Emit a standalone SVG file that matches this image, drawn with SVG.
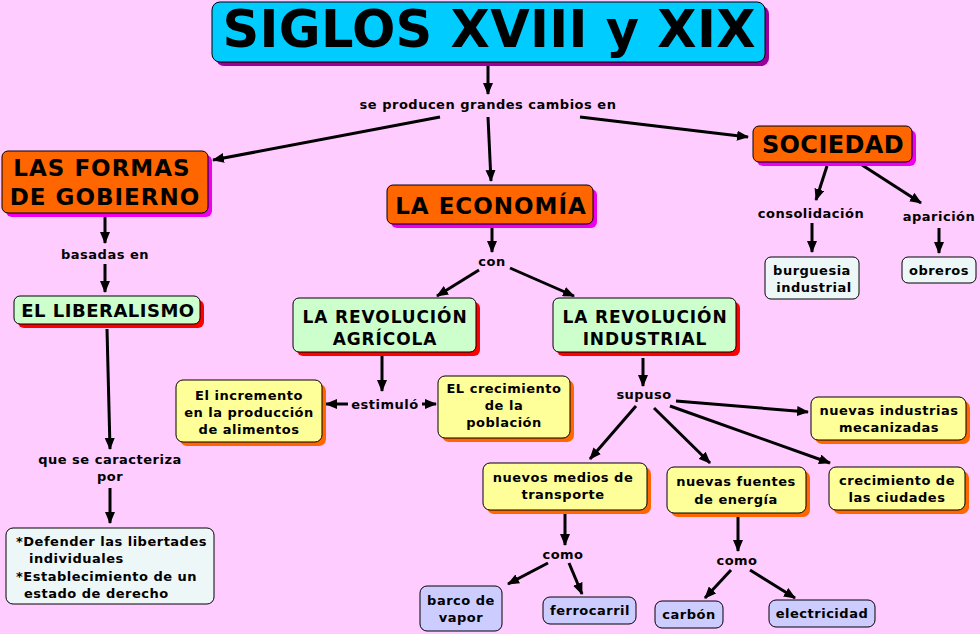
<svg xmlns="http://www.w3.org/2000/svg" width="980" height="634" viewBox="0 0 980 634">
<defs>
<marker id="ah" viewBox="0 0 12 10" refX="11" refY="5" markerWidth="12" markerHeight="10" markerUnits="userSpaceOnUse" orient="auto">
<path d="M0,0 L12,5 L0,10 z" fill="#000"/>
</marker>
<style>
text{font-family:"DejaVu Sans","Verdana",sans-serif;font-weight:bold;fill:#000;text-anchor:middle;letter-spacing:0.5px}
.lbl{font-size:13px}
.t13{font-size:13px}
.h23{font-size:23px;letter-spacing:1px}
.h17{font-size:17px;letter-spacing:0.9px}
.c line{stroke:#000;stroke-width:3;marker-end:url(#ah)}
.box{stroke:#000;stroke-width:1}
.org{fill:#FF6600}
.grn{fill:#CCFFCC}
.yel{fill:#FFFF99}
.wht{fill:#EEF7F7}
.blu{fill:#CCCCFF}
.shm{fill:#EE00EE}
.shr{fill:#FF0000}
.sho{fill:#FF6600}
</style>
</defs>
<rect width="980" height="634" fill="#FFCCFF"/>

<g id="connectors" class="c">
<line x1="488" y1="65" x2="488" y2="94"/>
<line x1="440" y1="117" x2="213" y2="160"/>
<line x1="488" y1="117" x2="491" y2="181"/>
<line x1="580" y1="117" x2="748" y2="137"/>
<line x1="105" y1="217" x2="105" y2="243"/>
<line x1="105" y1="264" x2="105" y2="292"/>
<line x1="107" y1="329" x2="110" y2="449"/>
<line x1="110" y1="488" x2="110" y2="523"/>
<line x1="492" y1="228" x2="492" y2="252"/>
<line x1="479" y1="270" x2="437" y2="296"/>
<line x1="510" y1="268" x2="574" y2="296"/>
<line x1="382" y1="356" x2="382" y2="391"/>
<line x1="348" y1="404" x2="326" y2="404"/>
<line x1="422" y1="404" x2="436" y2="404"/>
<line x1="643" y1="358" x2="643" y2="386"/>
<line x1="676" y1="401" x2="808" y2="412"/>
<line x1="670" y1="406" x2="830" y2="463"/>
<line x1="654" y1="408" x2="710" y2="463"/>
<line x1="636" y1="406" x2="590" y2="459"/>
<line x1="565" y1="514" x2="565" y2="545"/>
<line x1="548" y1="563" x2="508" y2="584"/>
<line x1="569" y1="563" x2="582" y2="594"/>
<line x1="738" y1="517" x2="738" y2="551"/>
<line x1="731" y1="570" x2="705" y2="598"/>
<line x1="750" y1="570" x2="795" y2="598"/>
<line x1="827" y1="166" x2="816" y2="200"/>
<line x1="862" y1="165" x2="921" y2="203"/>
<line x1="812" y1="223" x2="812" y2="252"/>
<line x1="939" y1="228" x2="939" y2="253"/>
</g>

<g id="labels">
<text class="lbl" x="488" y="109">se producen grandes cambios en</text>
<text class="lbl" x="105" y="259">basadas en</text>
<text class="lbl" x="110" y="464">que se caracteriza</text>
<text class="lbl" x="110" y="481">por</text>
<text class="lbl" x="492" y="266">con</text>
<text class="lbl" x="385" y="409">estimuló</text>
<text class="lbl" x="644" y="399">supuso</text>
<text class="lbl" x="563" y="559">como</text>
<text class="lbl" x="737" y="565">como</text>
<text class="lbl" x="811" y="218">consolidación</text>
<text class="lbl" x="939" y="221">aparición</text>
</g>

<g id="title">
<rect x="216" y="6" width="553" height="60" rx="8" fill="#990099"/>
<rect class="box" x="212" y="2" width="553" height="60" rx="8" fill="#00CCFF"/>
<text x="489" y="47" style="font-size:51px;letter-spacing:0" textLength="533" lengthAdjust="spacing">SIGLOS XVIII y XIX</text>
</g>

<g id="formas">
<rect class="shm" x="6" y="155" width="206" height="62" rx="6"/>
<rect class="box org" x="2" y="151" width="206" height="62" rx="6"/>
<text class="h23" x="102" y="176">LAS FORMAS</text>
<text class="h23" x="105" y="205">DE GOBIERNO</text>
</g>

<g id="liberalismo">
<rect class="shr" x="18" y="300" width="186" height="28" rx="6"/>
<rect class="box grn" x="14" y="296" width="186" height="28" rx="6"/>
<text x="108" y="317" style="font-size:18px;letter-spacing:0.5px">EL LIBERALISMO</text>
</g>

<g id="caracteristicas">
<rect class="box wht" x="6" y="528" width="208" height="76" rx="7"/>
<text x="16" y="546" class="t13" style="text-anchor:start">*Defender las libertades</text>
<text x="29" y="563" class="t13" style="text-anchor:start">individuales</text>
<text x="16" y="581" class="t13" style="text-anchor:start">*Establecimiento de un</text>
<text x="24" y="598" class="t13" style="text-anchor:start">estado de derecho</text>
</g>

<g id="economia">
<rect class="shm" x="391" y="189" width="206" height="39" rx="6"/>
<rect class="box org" x="387" y="185" width="206" height="39" rx="6"/>
<text class="h23" x="491" y="214">LA ECONOMÍA</text>
</g>

<g id="agricola">
<rect class="shr" x="297" y="302" width="183" height="54" rx="6"/>
<rect class="box grn" x="293" y="298" width="183" height="54" rx="6"/>
<text class="h17" x="385" y="323">LA REVOLUCIÓN</text>
<text class="h17" x="385" y="345">AGRÍCOLA</text>
</g>

<g id="industrial">
<rect class="shr" x="557" y="302" width="183" height="54" rx="6"/>
<rect class="box grn" x="553" y="298" width="183" height="54" rx="6"/>
<text class="h17" x="645" y="323">LA REVOLUCIÓN</text>
<text class="h17" x="645" y="345">INDUSTRIAL</text>
</g>

<g id="incremento">
<rect class="sho" x="180" y="384" width="146" height="62" rx="7"/>
<rect class="box yel" x="176" y="380" width="146" height="62" rx="7"/>
<text class="t13" x="249" y="400">El incremento</text>
<text class="t13" x="249" y="417">en la producción</text>
<text class="t13" x="249" y="434">de alimentos</text>
</g>

<g id="crecimiento-poblacion">
<rect class="sho" x="442" y="380" width="132" height="62" rx="7"/>
<rect class="box yel" x="438" y="376" width="132" height="62" rx="7"/>
<text class="t13" x="504" y="393">EL crecimiento</text>
<text class="t13" x="504" y="410">de la</text>
<text class="t13" x="504" y="427">población</text>
</g>

<g id="industrias">
<rect class="sho" x="815" y="401" width="155" height="43" rx="7"/>
<rect class="box yel" x="811" y="397" width="155" height="43" rx="7"/>
<text class="t13" x="889" y="415">nuevas industrias</text>
<text class="t13" x="889" y="432">mecanizadas</text>
</g>

<g id="ciudades">
<rect class="sho" x="833" y="471" width="136" height="43" rx="7"/>
<rect class="box yel" x="829" y="467" width="136" height="43" rx="7"/>
<text class="t13" x="897" y="485">crecimiento de</text>
<text class="t13" x="897" y="502">las ciudades</text>
</g>

<g id="fuentes">
<rect class="sho" x="671" y="471" width="139" height="46" rx="7"/>
<rect class="box yel" x="667" y="467" width="139" height="46" rx="7"/>
<text class="t13" x="736" y="486">nuevas fuentes</text>
<text class="t13" x="736" y="504">de energía</text>
</g>

<g id="transporte">
<rect class="sho" x="487" y="467" width="164" height="47" rx="7"/>
<rect class="box yel" x="483" y="463" width="164" height="47" rx="7"/>
<text class="t13" x="563" y="482">nuevos medios de</text>
<text class="t13" x="563" y="499">transporte</text>
</g>

<g id="barco">
<rect class="box blu" x="420" y="586" width="82" height="45" rx="7"/>
<text class="t13" x="461" y="605">barco de</text>
<text class="t13" x="461" y="622">vapor</text>
</g>

<g id="ferrocarril">
<rect class="box blu" x="543" y="597" width="93" height="27" rx="7"/>
<text class="t13" x="590" y="615">ferrocarril</text>
</g>

<g id="carbon">
<rect class="box blu" x="655" y="601" width="68" height="27" rx="7"/>
<text class="t13" x="689" y="619">carbón</text>
</g>

<g id="electricidad">
<rect class="box blu" x="769" y="600" width="106" height="27" rx="7"/>
<text class="t13" x="822" y="618">electricidad</text>
</g>

<g id="sociedad">
<rect class="shm" x="757" y="130" width="159" height="36" rx="6"/>
<rect class="box org" x="753" y="126" width="159" height="36" rx="6"/>
<text x="833" y="153" style="font-size:24px;letter-spacing:0.4px">SOCIEDAD</text>
</g>

<g id="burguesia">
<rect class="box wht" x="765" y="257" width="94" height="42" rx="6"/>
<text class="t13" x="812" y="275">burguesia</text>
<text class="t13" x="814" y="292">industrial</text>
</g>

<g id="obreros">
<rect class="box wht" x="902" y="257" width="74" height="26" rx="6"/>
<text class="t13" x="939" y="275">obreros</text>
</g>
</svg>
